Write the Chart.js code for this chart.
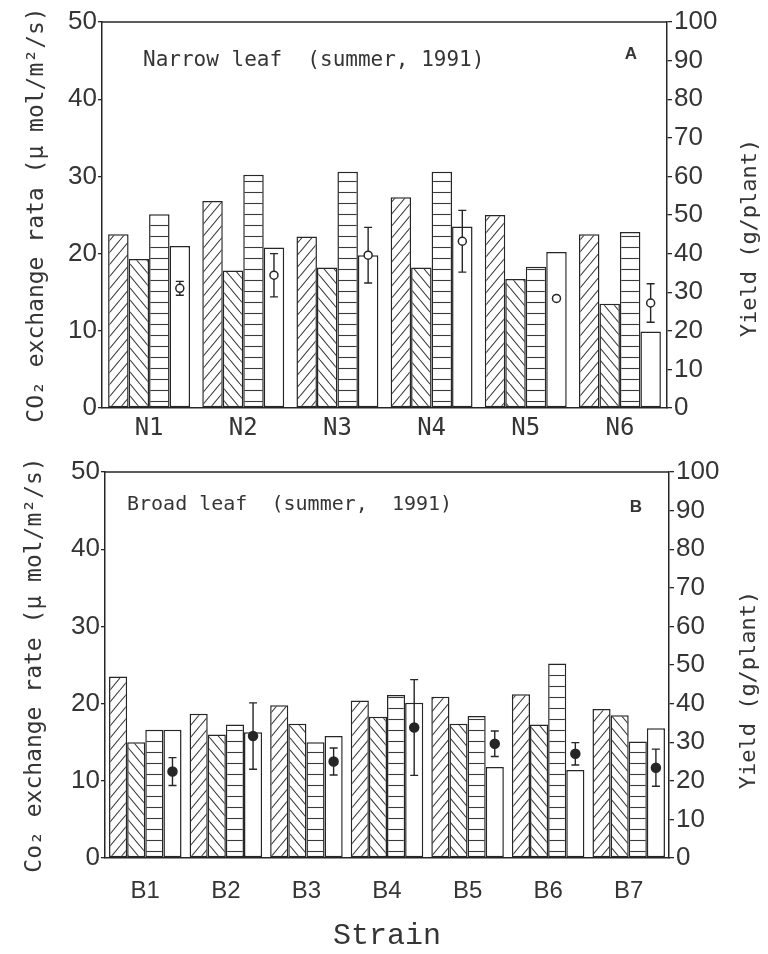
<!DOCTYPE html>
<html>
<head>
<meta charset="utf-8">
<script src="https://cdn.jsdelivr.net/npm/chart.js@4"></script>
<style>
  html, body { margin: 0; padding: 0; background: #fff; }
  #wrap { position: relative; width: 768px; height: 954px; }
  canvas { position: absolute; left: 0; display: block; }
</style>
</head>
<body>
<div id="wrap">
  <canvas id="narrow-chart" width="768" height="450" style="top:0"></canvas>
  <canvas id="broad-chart" width="768" height="504" style="top:450px"></canvas>
</div>
<script>
// panel A - narrow leaf strains
var narrowStrains = ['N1', 'N2', 'N3', 'N4', 'N5', 'N6'];
var narrowRate1 = [22.5, 26.8, 22.2, 27.3, 25.0, 22.5];   // ///
var narrowRate2 = [19.3, 17.8, 18.2, 18.2, 16.7, 13.5];   // \\\
var narrowRate3 = [25.1, 30.2, 30.6, 30.6, 18.3, 22.8];   // horizontal lines
var narrowRate4 = [21.0, 20.8, 19.8, 23.5, 20.2, 9.9];    // open bar
var narrowYield = [31.0, 34.4, 39.6, 43.2, 28.4, 27.2];
var narrowYieldErr = [1.8, 5.6, 7.2, 8.0, 0, 5.0];

// panel B - broad leaf strains
var broadStrains = ['B1', 'B2', 'B3', 'B4', 'B5', 'B6', 'B7'];
var broadRate1 = [23.5, 18.7, 19.8, 20.4, 20.9, 21.2, 19.3];
var broadRate2 = [15.0, 16.0, 17.4, 18.3, 17.4, 17.3, 18.5];
var broadRate3 = [16.6, 17.3, 15.0, 21.1, 18.4, 25.2, 15.1];
var broadRate4 = [16.6, 16.3, 15.8, 20.1, 11.8, 11.4, 16.8];
var broadYield = [22.4, 31.6, 25.0, 33.8, 29.6, 27.0, 23.4];
var broadYieldErr = [3.6, 8.6, 3.5, 12.4, 3.3, 2.9, 4.8];

var rateTicks = [0, 50, 10];
var yieldTicks = [0, 100, 10];

var ink = '#262626';
var txt = '#353535';
var mono = "'DejaVu Sans Mono', monospace";
var narrowSans = "'Liberation Sans Narrow', 'Liberation Sans', sans-serif";

// hatch fills for the bars
function hatch(kind) {
  var c = document.createElement('canvas');
  var w = 10, h = 12;
  if (kind === 'stripes') { w = 8; h = 11; }
  c.width = w; c.height = h;
  var g = c.getContext('2d');
  g.fillStyle = '#fff';
  g.fillRect(0, 0, w, h);
  g.strokeStyle = '#3a3a3a';
  g.lineWidth = 1.1;
  g.beginPath();
  for (var k = -1; k <= 1; k++) {
    if (kind === 'up') { g.moveTo(k * w, h); g.lineTo((k + 1) * w, 0); }
    if (kind === 'down') { g.moveTo(k * w, 0); g.lineTo((k + 1) * w, h); }
  }
  if (kind === 'stripes') { g.moveTo(0, h / 2); g.lineTo(w, h / 2); }
  g.stroke();
  return g.createPattern(c, 'repeat');
}

// move yield points onto the open bar and draw their error bars
var yieldMarks = {
  id: 'yieldMarks',
  afterDatasetsUpdate: function (chart) {
    var bars = chart.getDatasetMeta(3).data;
    var pts = chart.getDatasetMeta(4).data;
    for (var i = 0; i < pts.length; i++) {
      if (bars[i]) pts[i].x = bars[i].x;
    }
  },
  beforeDatasetDraw: function (chart, args) {
    if (args.index !== 4) return;
    var ds = chart.data.datasets[4];
    var pts = args.meta.data;
    var y1 = chart.scales.y1;
    var ctx = chart.ctx;
    ctx.save();
    ctx.strokeStyle = ink;
    ctx.lineWidth = 1.4;
    for (var i = 0; i < pts.length; i++) {
      var e = ds.errors[i];
      if (!e) continue;
      var x = pts[i].x;
      var top = y1.getPixelForValue(ds.data[i] + e);
      var bot = y1.getPixelForValue(ds.data[i] - e);
      ctx.beginPath();
      ctx.moveTo(x, top); ctx.lineTo(x, bot);
      ctx.moveTo(x - 4, top); ctx.lineTo(x + 4, top);
      ctx.moveTo(x - 4, bot); ctx.lineTo(x + 4, bot);
      ctx.stroke();
    }
    ctx.restore();
  }
};

// frame top, heading, panel letter and right axis title
var panelDecor = {
  id: 'panelDecor',
  afterDraw: function (chart) {
    var o = chart.options.plugins.panelDecor;
    var a = chart.chartArea;
    var ctx = chart.ctx;
    ctx.save();
    ctx.strokeStyle = ink;
    ctx.lineWidth = 1.5;
    ctx.beginPath();
    ctx.moveTo(a.left, a.top);
    ctx.lineTo(a.right, a.top);
    ctx.stroke();

    ctx.fillStyle = txt;
    ctx.textBaseline = 'middle';
    ctx.textAlign = 'left';
    ctx.font = o.headSize + 'px ' + mono;
    ctx.fillText(o.heading, a.left + o.headX, a.top + o.headY);

    ctx.textAlign = 'center';
    ctx.font = 'bold 17px "Liberation Sans", sans-serif';
    ctx.fillText(o.letter, a.right - o.letterX, a.top + o.letterY);

    ctx.translate(a.right + o.yieldX, (a.top + a.bottom) / 2 + o.yieldY);
    ctx.rotate(-Math.PI / 2);
    ctx.font = '22px ' + mono;
    ctx.fillText('Yield (g/plant)', 0, 0);
    ctx.restore();
  }
};

function makeChart(id, p) {
  var datasets = [
    { label: 'rate 1', data: p.rates[0], backgroundColor: hatch('up') },
    { label: 'rate 2', data: p.rates[1], backgroundColor: hatch('down') },
    { label: 'rate 3', data: p.rates[2], backgroundColor: hatch('stripes') },
    { label: 'rate 4', data: p.rates[3], backgroundColor: '#fff' }
  ].map(function (d) {
    d.borderColor = ink;
    d.borderWidth = 1.5;
    d.borderSkipped = false;
    d.yAxisID = 'y';
    d.order = 1;
    return d;
  });
  datasets.push({
    type: 'line',
    label: 'Yield',
    data: p.yield,
    errors: p.err,
    yAxisID: 'y1',
    showLine: false,
    order: 0,
    pointRadius: p.filled ? 4.5 : 4,
    pointBackgroundColor: p.filled ? ink : '#fff',
    pointBorderColor: ink,
    pointBorderWidth: 1.5
  });

  return new Chart(document.getElementById(id), {
    type: 'bar',
    data: { labels: p.labels, datasets: datasets },
    plugins: [yieldMarks, panelDecor],
    options: {
      responsive: false,
      animation: false,
      events: [],
      layout: { padding: { top: 22, left: 0, right: 0, bottom: 0 } },
      datasets: { bar: { categoryPercentage: p.catPct, barPercentage: 1 } },
      plugins: {
        legend: { display: false },
        tooltip: { enabled: false },
        panelDecor: p.decor
      },
      scales: {
        x: {
          grid: { display: false, drawTicks: false },
          border: { display: true, color: ink, width: 1.5 },
          ticks: { color: txt, font: { family: p.xFont, size: 24 }, padding: p.xPad },
          title: {
            display: !!p.xTitle, text: p.xTitle || '', color: txt,
            font: { family: "'Liberation Mono', 'Courier New', monospace", size: 30 },
            padding: { top: 0, bottom: 0 }
          },
          afterFit: function (s) { s.height = p.xHeight; }
        },
        y: {
          position: 'left',
          min: rateTicks[0], max: rateTicks[1],
          ticks: { stepSize: rateTicks[2], color: txt, padding: 1, font: { family: narrowSans, size: 26 } },
          grid: { drawOnChartArea: false, tickLength: 4, color: ink, lineWidth: 1.3 },
          border: { color: ink, width: 1.5 },
          title: {
            display: true, text: p.yTitle, color: txt,
            font: { family: mono, size: 23 },
            padding: { top: p.yTitlePad, bottom: 0 }
          },
          afterFit: function (s) { s.width = p.left; }
        },
        y1: {
          position: 'right',
          min: yieldTicks[0], max: yieldTicks[1],
          ticks: { stepSize: yieldTicks[2], color: txt, padding: 2, font: { family: narrowSans, size: 26 } },
          grid: { drawOnChartArea: false, tickLength: 5, color: ink, lineWidth: 1.3 },
          border: { color: ink, width: 1.5 },
          afterFit: function (s) { s.width = p.right; }
        }
      }
    }
  });
}

makeChart('narrow-chart', {
  labels: narrowStrains,
  rates: [narrowRate1, narrowRate2, narrowRate3, narrowRate4],
  yield: narrowYield,
  err: narrowYieldErr,
  filled: false,
  catPct: 0.87,
  xFont: mono,
  xPad: 6,
  xHeight: 42,
  left: 102,
  right: 101,
  yTitle: 'CO₂ exchange rata (μ mol/m²/s)',
  yTitlePad: 23,
  decor: { heading: 'Narrow leaf  (summer, 1991)', headSize: 21, headX: 41, headY: 39,
           letter: 'A', letterX: 36, letterY: 32, yieldX: 83, yieldY: 23 }
});

makeChart('broad-chart', {
  labels: broadStrains,
  rates: [broadRate1, broadRate2, broadRate3, broadRate4],
  yield: broadYield,
  err: broadYieldErr,
  filled: true,
  catPct: 0.9,
  xFont: narrowSans,
  xPad: 19,
  xHeight: 96,
  xTitle: 'Strain',
  left: 105,
  right: 99,
  yTitle: 'Co₂ exchange rate (μ mol/m²/s)',
  yTitlePad: 21,
  decor: { heading: 'Broad leaf  (summer,  1991)', headSize: 20, headX: 22, headY: 33,
           letter: 'B', letterX: 33, letterY: 35, yieldX: 80, yieldY: 25 }
});
</script>
</body>
</html>
